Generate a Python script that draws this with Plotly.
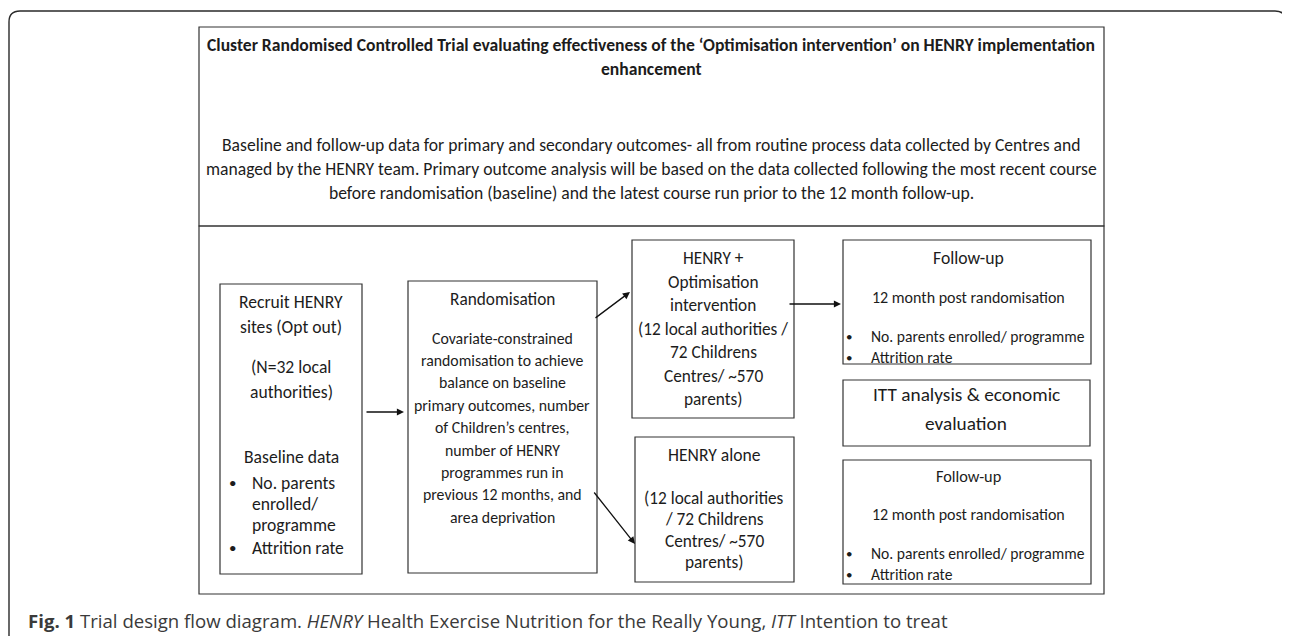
import plotly.graph_objects as go

W, H = 1290, 636
OFF = 8  # page body margin
FONT = "Carlito, Lato, 'Open Sans', sans-serif"
CAP_FONT = "'Open Sans', 'Noto Sans', sans-serif"
TXT = "#1c1c1c"
LINE = "#333333"

# ---- text content ----
title_lines = [
    "Cluster Randomised Controlled Trial evaluating effectiveness of the ‘Optimisation intervention’ on HENRY implementation",
    "enhancement",
]
summary_lines = [
    "Baseline and follow-up data for primary and secondary outcomes- all from routine process data collected by Centres and",
    "managed by the HENRY team. Primary outcome analysis will be based on the data collected following the most recent course",
    "before randomisation (baseline) and the latest course run prior to the 12 month follow-up.",
]
recruit_head = ["Recruit HENRY", "sites (Opt out)", "(N=32 local", "authorities)", "Baseline data"]
recruit_bullets = [["No. parents", "enrolled/", "programme"], ["Attrition rate"]]
random_head = ["Randomisation"]
random_body = [
    "Covariate-constrained", "randomisation to achieve", "balance on baseline",
    "primary outcomes, number", "of Children’s centres,", "number of HENRY",
    "programmes run in", "previous 12 months, and", "area deprivation",
]
optim_lines = ["HENRY +", "Optimisation", "intervention", "(12 local authorities /",
               "72 Childrens", "Centres/ ~570", "parents)"]
alone_head = ["HENRY alone"]
alone_body = ["(12 local authorities", "/ 72 Childrens", "Centres/ ~570", "parents)"]
follow_head = ["Follow-up"]
follow_sub = ["12 month post randomisation"]
follow_bullets = ["No. parents enrolled/ programme", "Attrition rate"]
itt_lines = ["ITT analysis & economic", "evaluation"]
caption_parts = ["Fig. 1", "Trial design flow diagram.", "HENRY", "Health Exercise Nutrition for the Really Young,",
                 "ITT", "Intention to treat"]

fig = go.Figure()
shapes = []
annotations = []


def box(x0, y0, x1, y1, width=1.2):
    shapes.append(dict(type="rect", xref="x", yref="y", x0=x0, y0=y0, x1=x1, y1=y1,
                       line=dict(color=LINE, width=width), fillcolor="rgba(0,0,0,0)"))


def txt(s, x, y, size, anchor="center", bold=False, color=TXT, font=FONT):
    if bold:
        s = "<b>" + s + "</b>"
    annotations.append(dict(x=x, y=y, xref="x", yref="y", text=s, showarrow=False,
                            xanchor=anchor, yanchor="middle",
                            font=dict(family=font, size=size, color=color)))


def arrow(x0, y0, x1, y1):
    annotations.append(dict(x=x1, y=y1, ax=x0, ay=y0, xref="x", yref="y", axref="x", ayref="y",
                            text="", showarrow=True, arrowhead=2, arrowsize=1.1, arrowwidth=1.3,
                            arrowcolor="#111111", standoff=0, startstandoff=0))


# outer rounded frame
r = 11
fx0, fy0, fx1, fy1 = 9, 11, 1286, 700
shapes.append(dict(type="path", xref="x", yref="y",
                   path=f"M {fx0},{fy1} L {fx0},{fy0 + r} Q {fx0},{fy0} {fx0 + r},{fy0} "
                        f"L {fx1 - r},{fy0} Q {fx1},{fy0} {fx1},{fy0 + r} L {fx1},{fy1}",
                   line=dict(color="#2a2a2a", width=1.4)))

# top and bottom outer boxes
box(199, 27, 1104, 226)
box(199, 226, 1104, 594)

# title block
txt(title_lines[0], 651, 45, 17.6, bold=True)
txt(title_lines[1], 651, 69, 17.6, bold=True)
for i, s in enumerate(summary_lines):
    txt(s, 651, 145 + 24 * i, 17.6)

# recruit box
box(220, 284, 362, 574)
for s, y in zip(recruit_head, [302, 327, 367, 392, 457]):
    txt(s, 291, y, 17.6)
for bl, ys in zip(recruit_bullets, [[483, 504, 525], [548]]):
    txt("•", 232, ys[0], 15)
    for s, y in zip(bl, ys):
        txt(s, 250, y, 17.6, anchor="left")

# randomisation box
box(408, 281, 597, 573)
txt(random_head[0], 502, 299, 17.3)
for i, s in enumerate(random_body):
    txt(s, 502, 338 + 22.4 * i, 15.8)

# HENRY + optimisation
box(632, 240, 794, 418)
for i, s in enumerate(optim_lines):
    txt(s, 713, 258.5 + 23.5 * i, 17.3)

# HENRY alone
box(635, 437, 794, 582)
txt(alone_head[0], 714, 455, 17.6)
for i, s in enumerate(alone_body):
    txt(s, 714, 498 + 21.5 * i, 17.3)

# follow-up 1
box(843, 240, 1091, 364)
txt(follow_head[0], 968, 258, 17.7)
txt(follow_sub[0], 968, 297, 16)
for s, y in zip(follow_bullets, [336, 357]):
    txt("•", 849, y, 13)
    txt(s, 869, y, 15.6, anchor="left")

# ITT
box(843, 380, 1090, 446)
txt(itt_lines[0], 966, 394, 19.3)
txt(itt_lines[1], 966, 423, 19.3)

# follow-up 2
box(843, 460, 1091, 584)
txt(follow_head[0], 968, 476, 16.3)
txt(follow_sub[0], 968, 514, 16)
for s, y in zip(follow_bullets, [553, 574]):
    txt("•", 849, y, 13)
    txt(s, 869, y, 15.6, anchor="left")

# arrows
arrow(365, 412, 404, 412)
arrow(594, 319, 630, 292)
arrow(593, 491, 635, 544)
arrow(788, 304, 841, 304)

# caption
cap = (f"<b>{caption_parts[0]}</b> {caption_parts[1]} <i>{caption_parts[2]}</i> {caption_parts[3]} "
       f"<i>{caption_parts[4]}</i> {caption_parts[5]}")
annotations.append(dict(x=26, y=620, xref="x", yref="y", text=cap, showarrow=False,
                        xanchor="left", yanchor="middle",
                        font=dict(family=CAP_FONT, size=18.6, color="#3a3a3a")))

fig.update_layout(
    width=W - OFF, height=H - OFF, margin=dict(l=0, r=0, t=0, b=0),
    paper_bgcolor="white", plot_bgcolor="white",
    xaxis=dict(range=[OFF, W], visible=False, fixedrange=True),
    yaxis=dict(range=[H, OFF], visible=False, fixedrange=True),
    shapes=shapes, annotations=annotations, showlegend=False,
)
fig.write_html("out.html", config={"displayModeBar": False})
